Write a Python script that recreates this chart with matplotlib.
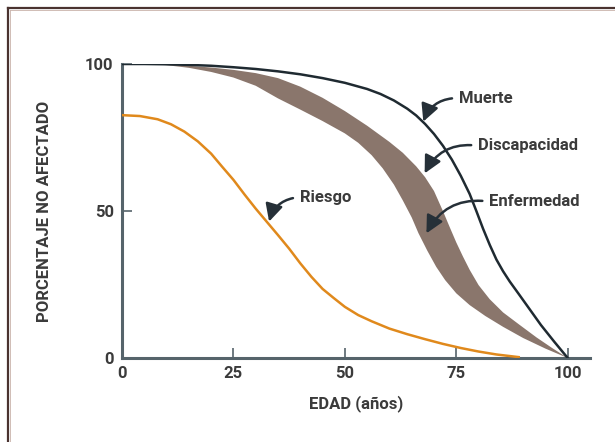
import numpy as np
import matplotlib
matplotlib.use("Agg")
import matplotlib.pyplot as plt
from matplotlib.lines import Line2D
from matplotlib import font_manager

# pick a bold face close to the original lettering
names = {f.name for f in font_manager.fontManager.ttflist}
family = "DejaVu Sans"
for cand in ["Roboto", "Liberation Sans Narrow", "Roboto Condensed", "Lato"]:
    if cand in names:
        family = cand
        break
plt.rcParams["font.family"] = [family, "DejaVu Sans"]
plt.rcParams["font.weight"] = "bold"

# curve values (edad, porcentaje)
muerte_x = [0, 5, 10, 15, 20, 25, 30, 35, 40, 45, 50, 55, 58, 61, 64, 66, 68, 70, 72, 74, 76, 78,
            79.5, 81, 82.5, 84, 85.5, 87, 89, 91.5, 94, 97, 100]
muerte_y = [100, 100, 99.9, 99.7, 99.4, 98.9, 98.3, 97.5, 96.5, 95.2, 93.6, 91.5, 89.8, 87.6, 84.8,
            82.5, 79.6, 76.2, 72.2, 67.5, 62, 55.8, 50, 44, 38.5, 33.5, 29.5, 26, 21.8, 16.5,
            11.2, 5.5, 0]

discap_x = [6, 10, 15, 20, 25, 30, 35, 40, 45, 50, 55, 60, 63, 66, 68, 70, 72, 73.5, 75, 76.5, 78,
            80, 82.5, 85.5, 89, 93, 96.5, 100]
discap_y = [100, 99.8, 99.4, 98.8, 98, 96.9, 95.2, 92.3, 88.5, 84, 79, 73.5, 69.8, 65.2, 61.5,
            56.8, 50, 44.6, 39.3, 34.5, 30, 24.8, 20, 15.5, 11.5, 7, 3.4, 0]

enferm_x = [6, 10, 15, 20, 25, 30, 35, 40, 45, 50, 53, 56, 58.5, 61, 63, 65, 66.5, 68.5, 70.5,
            72.5, 75, 78, 81.5, 85.5, 90, 95, 100]
enferm_y = [100, 99.6, 98.7, 97.3, 95.4, 92.6, 88.3, 84.5, 80.6, 76.4, 73.2, 69, 64.5, 59, 53.6,
            47.8, 42.5, 36.5, 31, 26.5, 22, 18, 14.3, 10.6, 6.8, 3.2, 0]

riesgo_x = [0, 4, 8, 11, 14, 17, 20, 22.5, 25, 27.5, 30, 32.5, 35, 37.5, 40, 42.5, 45, 47.5, 50,
            53, 56, 60, 64, 68, 72, 76, 80, 84, 89]
riesgo_y = [82.6, 82.3, 81.2, 79.5, 77, 73.7, 69.5, 65, 60.6, 55.6, 50.8, 46.3, 41.8, 37.2, 32.2,
            27.6, 23.5, 20.4, 17.4, 14.6, 12.5, 10, 8.1, 6.4, 4.8, 3.4, 2.2, 1.2, 0.3]

xticks = [0, 25, 50, 75, 100]
yticks = [0, 50, 100]

# labels: (text, text position, arrow tip)
labels = [
    ("Muerte", (75.6, 88.4), (67.6, 80.4)),
    ("Discapacidad", (79.9, 72.2), (67.9, 62.8)),
    ("Enfermedad", (82.4, 53.2), (68.3, 42.4)),
    ("Riesgo", (39.9, 54.7), (33.0, 46.4)),
]

txt_col = "#3b3b3b"
dark = "#1f2a31"
band_col = "#8a766c"
orange = "#e0891c"
spine_col = "#56646b"

fig = plt.figure(figsize=(6.15, 4.42), dpi=100)
ax = fig.add_axes([122 / 615, 84 / 442, 468 / 615, 294 / 442])

band_px = list(discap_x) + list(enferm_x[::-1])
band_py = list(discap_y) + list(enferm_y[::-1])
ax.fill(band_px, band_py, color=band_col, lw=0, zorder=2)
ax.plot(muerte_x, muerte_y, color=dark, lw=1.8, zorder=3, solid_joinstyle="round")
ax.plot(riesgo_x, riesgo_y, color=orange, lw=1.8, zorder=3, solid_joinstyle="round")

for name, pos, tip in labels:
    ax.annotate(name, xy=tip, xytext=pos, ha="left", va="center",
                fontsize=12, fontweight="bold", color=txt_col,
                arrowprops=dict(arrowstyle="-|>,head_length=0.75,head_width=0.38",
                                connectionstyle="arc3,rad=0.35",
                                color="#263038", lw=1.8, relpos=(0, 0.5),
                                shrinkA=3, shrinkB=0, mutation_scale=14),
                zorder=5)

ax.set_xlim(0, 105)
ax.set_ylim(0, 100)
for s in ["top", "right"]:
    ax.spines[s].set_visible(False)
for s in ["left", "bottom"]:
    ax.spines[s].set_color(spine_col)
    ax.spines[s].set_linewidth(2.2)

ax.set_xticks(xticks)
ax.set_yticks(yticks)
ax.tick_params(direction="in", length=7, width=1.2, color=spine_col,
               labelsize=12, labelcolor=txt_col, pad=6)
for lab in ax.get_xticklabels() + ax.get_yticklabels():
    lab.set_fontweight("bold")

ax.set_xlabel("EDAD (años)", fontsize=12, fontweight="bold", color=txt_col, labelpad=10)
ax.set_ylabel("PORCENTAJE NO AFECTADO", fontsize=12, fontweight="bold", color=txt_col)
ax.yaxis.set_label_coords(-70 / 468, 0.5)

# frame lines on the top and left of the picture
fig.add_artist(Line2D([8 / 615, 8 / 615], [0, 1 - 8 / 442], transform=fig.transFigure,
                      color="#4a3330", lw=1.6))
fig.add_artist(Line2D([8 / 615, 1], [1 - 8 / 442, 1 - 8 / 442], transform=fig.transFigure,
                      color="#4a3330", lw=1.6))
fig.add_artist(Line2D([9.8 / 615, 9.8 / 615], [0, 1 - 9.8 / 442], transform=fig.transFigure,
                      color="#c9b2aa", lw=0.6))
fig.add_artist(Line2D([9.8 / 615, 1], [1 - 9.8 / 442, 1 - 9.8 / 442], transform=fig.transFigure,
                      color="#c9b2aa", lw=0.6))

fig.savefig("out.png", dpi=100)
